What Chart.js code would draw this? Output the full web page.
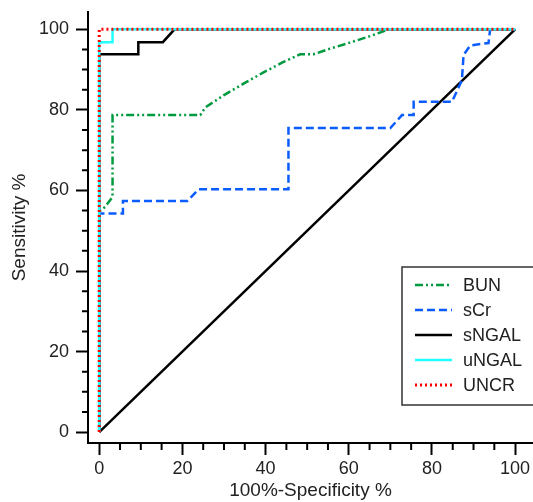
<!DOCTYPE html>
<html>
<head>
<meta charset="utf-8">
<script src="https://cdn.jsdelivr.net/npm/chart.js@4.4.0/dist/chart.umd.min.js"></script>
<style>
  body { margin: 0; background: #fff; }
  #wrap { width: 533px; height: 502px; }
</style>
</head>
<body>
<div id="wrap"><canvas id="roc" width="533" height="502"></canvas></div>
<script>
// ROC curves, [100%-specificity, sensitivity]
const BUN = [[0,0],[0,54.8],[1.4,55.9],[3.2,58.4],[3.2,78.7],[24.3,78.7],[25.5,80.6],[29.9,83.6],
  [34.7,86.5],[39.5,89.3],[44.3,91.9],[48.3,93.8],[51.5,93.8],[55.5,95.2],[60.3,96.7],
  [65.1,98.3],[68.3,99.5],[69.5,100],[100,100]];
const sCr = [[0,0],[0,54.3],[5.7,54.3],[5.7,57.4],[21.2,57.4],[23.9,60.3],[45.5,60.3],[45.5,75.5],
  [70,75.5],[72.8,78.7],[75.6,78.7],[75.6,82],[84.8,82],[87.2,87.3],[87.6,93.6],[89.2,96],
  [93.6,96.6],[94,100],[100,100]];
const sNGAL = [[0,0],[0,93.8],[9.4,93.8],[9.4,96.8],[15.3,96.8],[18.1,100],[100,100]];
const uNGAL = [[0,0],[0,96.8],[3.2,96.8],[3.2,100],[100,100]];
const UNCR = [[0,0],[0,100],[100,100]];
const chance = [[0,0],[100,100]];

const TICKS = [0, 20, 40, 60, 80, 100];
const MINOR = [5, 10, 15, 25, 30, 35, 45, 50, 55, 65, 70, 75, 85, 90, 95];
const LEGEND = ['BUN', 'sCr', 'sNGAL', 'uNGAL', 'UNCR'];

const FONT = '"Liberation Sans", Arial, Helvetica, sans-serif';
const pts = arr => arr.map(p => ({ x: p[0], y: p[1] }));

// minor ticks on both axes
const minorTicks = {
  id: 'minorTicks',
  afterDraw(chart) {
    const ctx = chart.ctx, xs = chart.scales.x, ys = chart.scales.y;
    ctx.save();
    ctx.strokeStyle = '#000';
    ctx.lineWidth = 2;
    ctx.beginPath();
    MINOR.forEach(v => {
      const px = xs.getPixelForValue(v);
      ctx.moveTo(px, xs.top); ctx.lineTo(px, xs.top + 7);
      const py = ys.getPixelForValue(v);
      ctx.moveTo(ys.right - 6, py); ctx.lineTo(ys.right, py);
    });
    ctx.stroke();
    ctx.restore();
  }
};

// boxed legend in the lower right (right edge runs off the canvas)
const boxLegend = {
  id: 'boxLegend',
  afterDraw(chart) {
    const ctx = chart.ctx;
    const bx = 402, by = 267, bw = 140, bh = 138;
    ctx.save();
    ctx.fillStyle = '#fff';
    ctx.fillRect(bx, by, bw, bh);
    ctx.strokeStyle = '#333';
    ctx.lineWidth = 1.5;
    ctx.strokeRect(bx, by, bw, bh);
    ctx.font = '18px ' + FONT;
    ctx.textBaseline = 'middle';
    LEGEND.forEach((name, i) => {
      const ds = chart.data.datasets.find(d => d.label === name);
      const y = 285 + i * 25;
      ctx.strokeStyle = ds.borderColor;
      ctx.lineWidth = ds.borderWidth;
      ctx.setLineDash(ds.borderDash || []);
      ctx.beginPath();
      ctx.moveTo(415, y); ctx.lineTo(452, y);
      ctx.stroke();
      ctx.setLineDash([]);
      ctx.fillStyle = '#222';
      ctx.fillText(name, 463, y + 1);
    });
    ctx.restore();
  }
};

const line = (label, data, color, width, dash, order) => ({
  label, data: pts(data), borderColor: color, borderWidth: width, borderDash: dash,
  showLine: true, pointRadius: 0, tension: 0, fill: false, order
});

const axisCommon = {
  type: 'linear',
  min: -2.7,
  max: 104.3,
  afterBuildTicks: s => { s.ticks = TICKS.map(v => ({ value: v })); },
  grid: { drawOnChartArea: false, drawTicks: true, tickLength: 12, tickWidth: 2, tickColor: '#000' },
  border: { display: true, width: 2, color: '#000' },
  ticks: { color: '#222', font: { size: 18, family: FONT }, maxRotation: 0, autoSkip: false }
};

new Chart(document.getElementById('roc'), {
  type: 'scatter',
  data: {
    datasets: [
      line('UNCR', UNCR, '#ff0000', 3, [2, 3], 0),
      line('uNGAL', uNGAL, '#22ffff', 2.5, [], 1),
      line('sCr', sCr, '#0b5cff', 2.5, [8, 4], 2),
      line('BUN', BUN, '#009a3e', 2.5, [8, 3, 2, 3, 2, 3], 3),
      line('sNGAL', sNGAL, '#000000', 2.5, [], 4),
      line('chance', chance, '#000000', 2.5, [], 5)
    ]
  },
  options: {
    responsive: false,
    animation: false,
    layout: { padding: { top: 12, right: 0, left: 0, bottom: 0 } },
    plugins: { legend: { display: false }, tooltip: { enabled: false } },
    scales: {
      x: {
        ...axisCommon,
        position: 'bottom',
        afterFit: s => { s.height = 59; s.paddingLeft = 0; s.paddingRight = 0; },
        ticks: { ...axisCommon.ticks, padding: 3 },
        title: { display: true, text: '100%-Specificity %', color: '#222',
          font: { size: 19, family: FONT }, padding: { top: 0, bottom: 0 } }
      },
      y: {
        ...axisCommon,
        position: 'left',
        afterFit: s => { s.width = 88; s.paddingTop = 0; s.paddingBottom = 0; },
        ticks: { ...axisCommon.ticks, padding: 7 },
        title: { display: true, text: 'Sensitivity %', color: '#222',
          font: { size: 19, family: FONT }, padding: { top: 8, bottom: 0 } }
      }
    }
  },
  plugins: [minorTicks, boxLegend]
});
</script>
</body>
</html>
